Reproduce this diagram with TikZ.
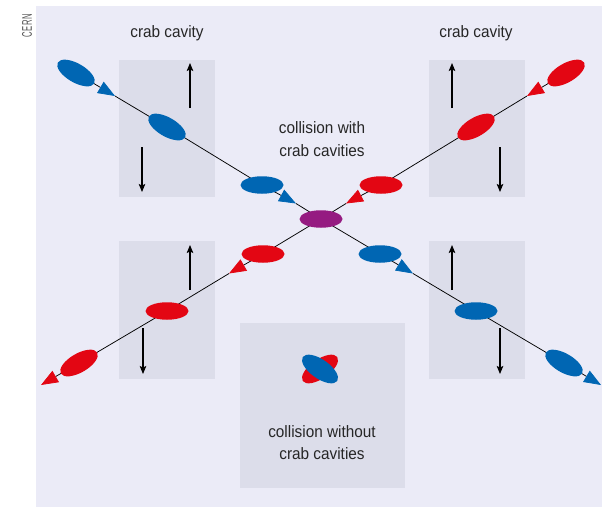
\documentclass[tikz,border=0pt]{standalone}
\usepackage{fontspec}
\setmainfont{Liberation Sans}[FakeStretch=0.93]
\newfontfamily\cernfont{Liberation Sans}[FakeStretch=0.55,LetterSpace=4]
\usetikzlibrary{shapes.geometric,arrows.meta}
\definecolor{cblue}{HTML}{0066B3}
\definecolor{cred}{HTML}{E30613}
\definecolor{cpurple}{HTML}{951B81}
\definecolor{panel}{HTML}{EBEBF7}
\definecolor{boxc}{HTML}{DCDDEA}
\definecolor{cerngray}{HTML}{555555}
\pgfdeclarelayer{bglayer}
\pgfdeclarelayer{linelayer}
\pgfsetlayers{bglayer,linelayer,main}
\tikzset{
  bunch/.style={ellipse, inner sep=0pt, draw=none, minimum width=43pt, minimum height=17.5pt},
  tiltb/.style={ellipse, inner sep=0pt, draw=none, minimum width=42pt, minimum height=19pt},
  beamline/.style={draw=black, line width=0.75pt},
  btip/.style={-{Triangle[length=17pt,width=13pt,color=cblue]}},
  rtip/.style={-{Triangle[length=17pt,width=13pt,color=cred]}},
  kick/.style={draw=black, line width=1.1pt, -{Stealth[length=8pt,width=6.5pt,inset=1.5pt]}},
  lbl/.style={font=\fontsize{16.5pt}{22pt}\selectfont, text=black!85, anchor=base, inner sep=0pt}
}
\begin{document}
\begin{tikzpicture}[x=1pt,y=-1pt]
\useasboundingbox (0,0) rectangle (602,507);
\begin{pgfonlayer}{bglayer}
  \fill[panel] (36,6) rectangle (602,507);
  \fill[boxc] (119,60) rectangle (215,197);
  \fill[boxc] (429,60) rectangle (525,197);
  \fill[boxc] (119,241) rectangle (215,379);
  \fill[boxc] (429,241) rectangle (525,379);
  \fill[boxc] (240,323) rectangle (405,488);
\end{pgfonlayer}

\node[rotate=90, text=cerngray, font=\cernfont\fontsize{14pt}{15pt}\selectfont, inner sep=0pt] (cern) at (27,26) {CERN};

% labels
\node[lbl] (cc1) at (167,37) {crab cavity};
\node[lbl] (cc2) at (476,37) {crab cavity};
\node[lbl] (cw1) at (322,133) {collision with};
\node[lbl] (cw2) at (322,156) {crab cavities};
\node[lbl] (co1) at (322,437) {collision without};
\node[lbl] (co2) at (322,459) {crab cavities};

% blue beam bunches
\node[tiltb, fill=cblue, rotate=-30] (bA) at (76,73) {};
\node[tiltb, fill=cblue, rotate=-30] (bB) at (167,127) {};
\node[bunch, fill=cblue] (bC) at (262,185) {};
\node[bunch, fill=cpurple] (P) at (321,219) {};
\node[bunch, fill=cblue] (bD) at (380,254) {};
\node[bunch, fill=cblue] (bE) at (476,311) {};
\node[tiltb, fill=cblue, rotate=-30] (bF) at (564,363) {};
% red beam bunches
\node[tiltb, fill=cred, rotate=30] (rA) at (566,73) {};
\node[tiltb, fill=cred, rotate=30] (rB) at (476,127) {};
\node[bunch, fill=cred] (rC) at (381,185) {};
\node[bunch, fill=cred] (rD) at (263,254) {};
\node[bunch, fill=cred] (rE) at (167,311) {};
\node[tiltb, fill=cred, rotate=30] (rF) at (79,363) {};

% arrow tip points
\coordinate (a1) at (115,96);
\coordinate (a2) at (296,203.5);
\coordinate (a3) at (413,273.5);
\coordinate (bEnd) at (601,385);
\coordinate (r1) at (527,96);
\coordinate (r2) at (346,203.5);
\coordinate (r3) at (229,273.5);
\coordinate (rEnd) at (41,385);

\begin{pgfonlayer}{linelayer}
  \draw[beamline, btip] (bA.center) -- (a1);
  \draw[beamline] (a1) -- (bB.center) -- (bC.center);
  \draw[beamline, btip] (bC.center) -- (a2);
  \draw[beamline] (a2) -- (P.center) -- (bD.center);
  \draw[beamline, btip] (bD.center) -- (a3);
  \draw[beamline] (a3) -- (bE.center) -- (bF.center);
  \draw[beamline, btip] (bF.center) -- (bEnd);

  \draw[beamline, rtip] (rA.center) -- (r1);
  \draw[beamline] (r1) -- (rB.center) -- (rC.center);
  \draw[beamline, rtip] (rC.center) -- (r2);
  \draw[beamline] (r2) -- (P.center) -- (rD.center);
  \draw[beamline, rtip] (rD.center) -- (r3);
  \draw[beamline] (r3) -- (rE.center) -- (rF.center);
  \draw[beamline, rtip] (rF.center) -- (rEnd);
\end{pgfonlayer}

% crab kicks
\coordinate (k1s) at (190,108); \coordinate (k1e) at (190,63);
\coordinate (k2s) at (142,147); \coordinate (k2e) at (142,192);
\coordinate (k3s) at (452,108); \coordinate (k3e) at (452,63);
\coordinate (k4s) at (500,147); \coordinate (k4e) at (500,192);
\coordinate (k5s) at (190,290); \coordinate (k5e) at (190,245);
\coordinate (k6s) at (143,328); \coordinate (k6e) at (143,374);
\coordinate (k7s) at (452,290); \coordinate (k7e) at (452,245);
\coordinate (k8s) at (500,328); \coordinate (k8e) at (500,374);
\draw[kick] (k1s) -- (k1e);
\draw[kick] (k2s) -- (k2e);
\draw[kick] (k3s) -- (k3e);
\draw[kick] (k4s) -- (k4e);
\draw[kick] (k5s) -- (k5e);
\draw[kick] (k6s) -- (k6e);
\draw[kick] (k7s) -- (k7e);
\draw[kick] (k8s) -- (k8e);

% head-on collision without crab cavities
\node[tiltb, fill=cred, rotate=35] (xr) at (320,369) {};
\node[tiltb, fill=cblue, rotate=-35] (xb) at (320,369) {};
\end{tikzpicture}
\end{document}
